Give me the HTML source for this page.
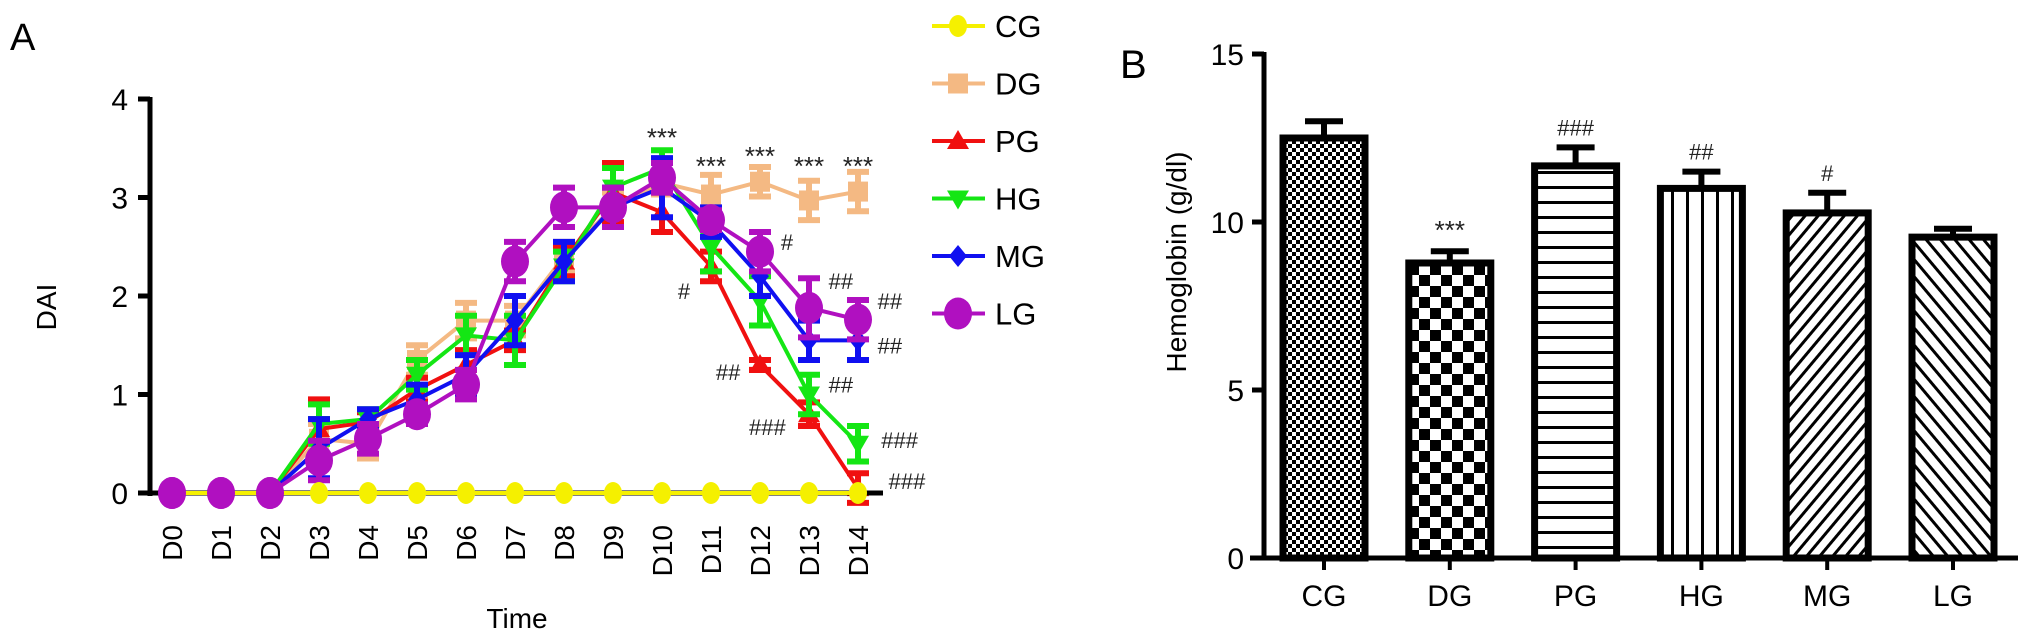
<!DOCTYPE html>
<html><head><meta charset="utf-8">
<style>
html,body{margin:0;padding:0;background:#fff;}
svg{display:block;font-family:"Liberation Sans",sans-serif;}
</style></head>
<body>
<svg id="fig" width="2032" height="644" viewBox="0 0 2032 644" xmlns="http://www.w3.org/2000/svg">
<defs>
<pattern id="p-cg" width="8" height="8" patternUnits="userSpaceOnUse"><rect width="8" height="8" fill="#fff"/><rect width="4" height="4" fill="#000"/><rect x="4" y="4" width="4" height="4" fill="#000"/></pattern>
<pattern id="p-dg" width="22" height="22" patternUnits="userSpaceOnUse"><rect width="22" height="22" fill="#fff"/><rect width="11" height="11" fill="#000"/><rect x="11" y="11" width="11" height="11" fill="#000"/></pattern>
<pattern id="p-pg" width="10" height="15" patternUnits="userSpaceOnUse"><rect width="10" height="15" fill="#fff"/><rect y="6" width="10" height="3" fill="#000"/></pattern>
<pattern id="p-hg" width="15" height="10" patternUnits="userSpaceOnUse"><rect width="15" height="10" fill="#fff"/><rect x="6" width="3" height="10" fill="#000"/></pattern>
<pattern id="p-mg" width="10" height="10" patternUnits="userSpaceOnUse" patternTransform="rotate(40)"><rect width="10" height="10" fill="#fff"/><rect width="3" height="10" fill="#000"/></pattern>
<pattern id="p-lg" width="11" height="11" patternUnits="userSpaceOnUse" patternTransform="rotate(-40)"><rect width="11" height="11" fill="#fff"/><rect width="3" height="11" fill="#000"/></pattern>
</defs>
<g id="chartA"></g>
<g id="chartB"></g>
</svg>
<script>
const days = ["D0","D1","D2","D3","D4","D5","D6","D7","D8","D9","D10","D11","D12","D13","D14"];
const groups = ["CG","DG","PG","HG","MG","LG"];
const colors = ["#f5f000","#f4b983","#f01010","#14e614","#1010f0","#b010c0"];
const cgVals = [0,0,0,0,0,0,0,0,0,0,0,0,0,0,0];
const dgVals = [0,0,0,0.55,0.5,1.35,1.75,1.75,2.4,2.9,3.15,3.03,3.16,2.97,3.06];
const pgVals = [0,0,0,0.65,0.72,1.05,1.3,1.55,2.35,3.05,2.85,2.3,1.3,0.8,0.05];
const hgVals = [0,0,0,0.7,0.75,1.2,1.6,1.55,2.3,3.1,3.3,2.5,1.95,1.0,0.5];
const mgVals = [0,0,0,0.45,0.75,0.95,1.2,1.75,2.35,2.9,3.1,2.75,2.2,1.55,1.55];
const lgVals = [0,0,0,0.33,0.55,0.8,1.1,2.35,2.9,2.9,3.2,2.77,2.45,1.88,1.76];
const dgErr = [0,0,0,0.15,0.15,0.15,0.18,0.15,0.15,0.15,0.12,0.2,0.15,0.2,0.2];
const pgErr = [0,0,0,0.3,0.1,0.12,0.15,0.1,0.15,0.3,0.2,0.15,0.05,0.12,0.15];
const hgErr = [0,0,0,0.2,0.1,0.15,0.2,0.25,0.15,0.2,0.18,0.25,0.25,0.2,0.18];
const mgErr = [0,0,0,0.3,0.1,0.15,0.2,0.25,0.2,0.2,0.3,0.15,0.2,0.2,0.2];
const lgErr = [0,0,0,0.2,0.15,0.1,0.15,0.2,0.2,0.2,0.15,0.1,0.2,0.3,0.2];
const yTicksA = [0,1,2,3,4];
const starsA = [[10,3.64,"***"],[11,3.35,"***"],[12,3.45,"***"],[13,3.35,"***"],[14,3.35,"***"]];
const hashA = [[11,-0.55,2.05,"#"],[12,0.55,2.55,"#"],[12,-0.65,1.23,"##"],[13,0.65,2.15,"##"],[13,0.65,1.1,"##"],[13,-0.85,0.67,"###"],[14,0.65,1.95,"##"],[14,0.65,1.5,"##"],[14,0.85,0.54,"###"],[14,1.0,0.12,"###"]];

const hbCats = ["CG","DG","PG","HG","MG","LG"];
const hbVals = [12.5,8.78,11.67,11.0,10.27,9.55];
const hbErr = [0.5,0.35,0.55,0.5,0.6,0.25];
const hbMarks = ["","***","###","##","#",""];
const yTicksB = [0,5,10,15];

const NS="http://www.w3.org/2000/svg";
function mk(parent,tag,attrs,text){const e=document.createElementNS(NS,tag);for(const k in attrs)e.setAttribute(k,attrs[k]);if(text!==undefined)e.textContent=text;parent.appendChild(e);return e;}

// ---------- Chart A ----------
const A=document.getElementById('chartA');
const xA=i=>172+i*49;
const yA=v=>493-v*98.5;
let t=mk(A,'text',{x:10,y:50,'font-size':38});t.textContent="A";


let ax=mk(A,'line',{x1:150,y1:yA(4)-2,x2:150,y2:yA(0)+3,stroke:'#000','stroke-width':5});


yTicksA.forEach(v=>{
  mk(A,'line',{x1:138,y1:yA(v),x2:150,y2:yA(v),stroke:'#000','stroke-width':5});
  const tl=mk(A,'text',{x:128,y:yA(v)+11,'font-size':30,'text-anchor':'end'},String(v));
  
  
});
t=mk(A,'text',{transform:'translate(56,307) rotate(-90)','font-size':28,'text-anchor':'middle'},"DAI");


days.forEach((d,i)=>{
  const tl=mk(A,'text',{transform:`translate(${xA(i)+10},525) rotate(-90)`,'font-size':28,'text-anchor':'end'},d);
  
  
});
t=mk(A,'text',{x:517,y:628,'font-size':28,'text-anchor':'middle'},"Time");



const series=[cgVals,dgVals,pgVals,hgVals,mgVals,lgVals];
const errs=[null,dgErr,pgErr,hgErr,mgErr,lgErr];
function marker(g,k,x,y,c,s){
  if(k===0) return mk(g,'ellipse',{cx:x,cy:y,rx:9,ry:11,fill:c});
  if(k===1) return mk(g,'rect',{x:x-10,y:y-10,width:20,height:20,fill:c});
  if(k===2) return mk(g,'polygon',{points:`${x},${y-11} ${x+11},${y+8} ${x-11},${y+8}`,fill:c});
  if(k===3) return mk(g,'polygon',{points:`${x},${y+11} ${x+11},${y-8} ${x-11},${y-8}`,fill:c});
  if(k===4) return mk(g,'polygon',{points:`${x},${y-11} ${x+9},${y} ${x},${y+11} ${x-9},${y}`,fill:c});
  return mk(g,'ellipse',{cx:x,cy:y,rx:14,ry:16,fill:c});
}
// draw order: DG, PG, HG, MG, LG, then CG on top of axis
[1,2,3,4,5,0].forEach(k=>{
  const g=mk(A,'g',{});
  
  
  const vals=series[k];
  const pts=vals.map((v,i)=>`${xA(i)},${yA(v)}`).join(' ');
  const ln=mk(g,'polyline',{points:pts,fill:'none',stroke:colors[k],'stroke-width':4});
  
  
  vals.forEach((v,i)=>{
    if(errs[k]&&errs[k][i]>0){
      const e=errs[k][i];
      const eb=mk(g,'path',{d:`M${xA(i)},${yA(v+e)}V${yA(v-e)}M${xA(i)-11},${yA(v+e)}H${xA(i)+11}M${xA(i)-11},${yA(v-e)}H${xA(i)+11}`,stroke:colors[k],'stroke-width':6,fill:'none'});
      
      
    }
    const m=marker(g,k,xA(i),yA(v),colors[k]);
    
    
  });
  if(k===5){
    const xl=mk(A,'line',{x1:143,y1:yA(0),x2:883,y2:yA(0),stroke:'#000','stroke-width':5});
    
    
  }
});
// redraw LG early points over axis
for(let i=0;i<3;i++){const m=marker(A,5,xA(i),yA(lgVals[i]),colors[5]);
  
  }
starsA.forEach(s=>{
  const tl=mk(A,'text',{x:xA(s[0]),y:yA(s[1])+12,'font-size':26,'text-anchor':'middle',fill:'#222'},s[2]);
  
  
});
hashA.forEach(h=>{
  const tl=mk(A,'text',{x:xA(h[0])+h[1]*49,y:yA(h[2])+8,'font-size':22,'text-anchor':'middle',fill:'#222'},h[3]);
  
  
});
// legend
const L=mk(A,'g',{});


groups.forEach((gname,k)=>{
  const y=26+k*57.5;
  const ge=mk(L,'g',{});
  
  
  mk(ge,'line',{x1:932,y1:y,x2:985,y2:y,stroke:colors[k],'stroke-width':4});
  marker(ge,k,958,y,colors[k]);
  mk(ge,'text',{x:995,y:y+11,'font-size':31},gname);
});

// ---------- Chart B ----------
const B=document.getElementById('chartB');
const yB=v=>558-v*33.6;
const xB=i=>1324+i*125.8;
t=mk(B,'text',{x:1120,y:78,'font-size':40},"B");


ax=mk(B,'line',{x1:1264,y1:yB(15)-2,x2:1264,y2:yB(0)+2,stroke:'#000','stroke-width':5});


yTicksB.forEach(v=>{
  mk(B,'line',{x1:1252,y1:yB(v),x2:1264,y2:yB(v),stroke:'#000','stroke-width':5});
  const tl=mk(B,'text',{x:1244,y:yB(v)+11,'font-size':30,'text-anchor':'end'},String(v));
  
  
});
t=mk(B,'text',{transform:'translate(1186,262) rotate(-90)','font-size':28,'text-anchor':'middle'},"Hemoglobin (g/dl)");


const pats=["p-cg","p-dg","p-pg","p-hg","p-mg","p-lg"];
hbCats.forEach((c,i)=>{
  const g=mk(B,'g',{});
  
  
  const x=xB(i),v=hbVals[i],e=hbErr[i];
  mk(g,'path',{d:`M${x},${yB(v)}V${yB(v+e)}M${x-19},${yB(v+e)}H${x+19}`,stroke:'#000','stroke-width':6,fill:'none'});
  mk(g,'rect',{x:x-41,y:yB(v),width:82,height:yB(0)-yB(v),fill:`url(#${pats[i]})`,stroke:'#000','stroke-width':7});
  mk(B,'line',{x1:x,y1:yB(0),x2:x,y2:yB(0)+12,stroke:'#000','stroke-width':4});
  const tl=mk(B,'text',{x:x,y:606,'font-size':30,'text-anchor':'middle'},c);
  
  
  if(hbMarks[i]){
    const m=mk(B,'text',{x:x,y:yB(v+e)-12,'font-size':hbMarks[i][0]==='*'?26:22,'text-anchor':'middle',fill:'#222'},hbMarks[i]);
    
    
  }
});
const xlB=mk(B,'line',{x1:1250,y1:yB(0),x2:2018,y2:yB(0),stroke:'#000','stroke-width':5});


</script>
</body></html>
